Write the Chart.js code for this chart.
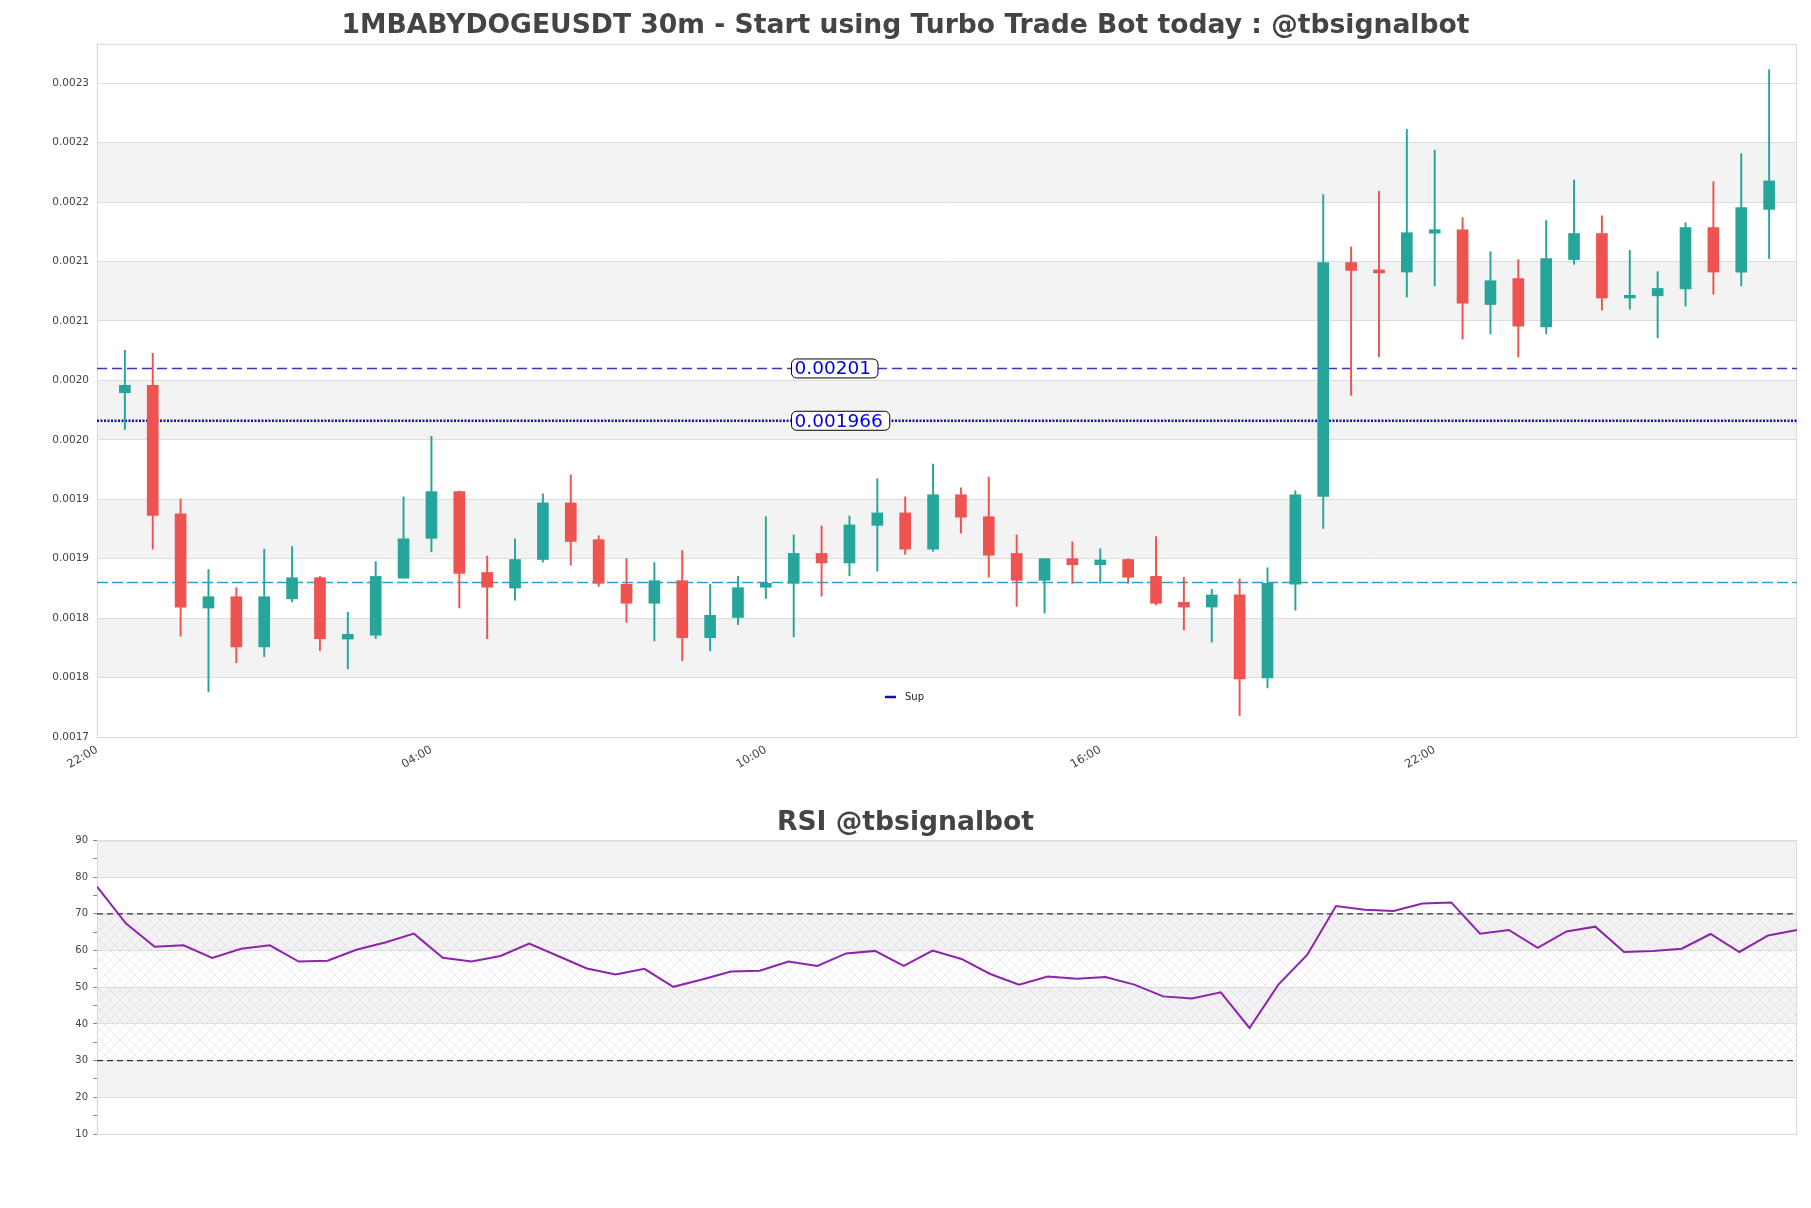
<!DOCTYPE html>
<html>
<head>
<meta charset="utf-8">
<title>1MBABYDOGEUSDT 30m</title>
<script src="https://cdn.jsdelivr.net/npm/chart.js@4.4.1/dist/chart.umd.min.js"></script>
<style>
  html, body { margin: 0; padding: 0; background: #fff; }
  #wrap { position: relative; width: 1811px; height: 1208px; }
  #priceChart { position: absolute; left: 0; top: 0; }
  #rsiChart { position: absolute; left: 0; top: 790px; }
</style>
</head>
<body>
<div id="wrap">
  <canvas id="priceChart" width="1811" height="790"></canvas>
  <canvas id="rsiChart" width="1811" height="418"></canvas>
</div>
<script>
// Candles, 30m each, first one at 22:30
const opens = [
    0.0019896, 0.0019958, 0.0018878, 0.0018085, 0.0018180, 0.0017758, 0.0018162, 0.0018340, 0.0017824, 0.0017856,
    0.0018336, 0.0018671, 0.0019064, 0.0018384, 0.0018253, 0.0018493, 0.0018969, 0.0018660, 0.0018285, 0.0018125,
    0.0018315, 0.0017835, 0.0018005, 0.0018260, 0.0018293, 0.0018544, 0.0018464, 0.0018780, 0.0018885, 0.0018580,
    0.0019038, 0.0018853, 0.0018544, 0.0018318, 0.0018500, 0.0018449, 0.0018493, 0.0018351, 0.0018133, 0.0018093,
    0.0018195, 0.0017496, 0.0018285, 0.0019024, 0.0020991, 0.0020929, 0.0020911, 0.0021238, 0.0021267, 0.0020638,
    0.0020856, 0.0020449, 0.0021016, 0.0021235, 0.0020693, 0.0020711, 0.0020769, 0.0021285, 0.0020911, 0.0021438
];
const highs = [
    0.0020253, 0.0020227, 0.0019002, 0.0018409, 0.0018256, 0.0018580, 0.0018602, 0.0018351, 0.0018049, 0.0018475,
    0.0019020, 0.0019529, 0.0019070, 0.0018522, 0.0018667, 0.0019045, 0.0019205, 0.0018693, 0.0018500, 0.0018467,
    0.0018569, 0.0018285, 0.0018351, 0.0018853, 0.0018700, 0.0018776, 0.0018860, 0.0019173, 0.0019020, 0.0019296,
    0.0019096, 0.0019187, 0.0018700, 0.0018500, 0.0018642, 0.0018584, 0.0018500, 0.0018685, 0.0018344, 0.0018242,
    0.0018329, 0.0018424, 0.0019071, 0.0021562, 0.0021122, 0.0021591, 0.0022111, 0.0021936, 0.0021369, 0.0021082,
    0.0021016, 0.0021344, 0.0021685, 0.0021384, 0.0021093, 0.0020915, 0.0021325, 0.0021671, 0.0021907, 0.0022613
];
const lows = [
    0.0019587, 0.0018580, 0.0017849, 0.0017380, 0.0017624, 0.0017675, 0.0018136, 0.0017725, 0.0017573, 0.0017827,
    0.0018336, 0.0018558, 0.0018085, 0.0017827, 0.0018151, 0.0018471, 0.0018445, 0.0018267, 0.0017965, 0.0017809,
    0.0017642, 0.0017725, 0.0017944, 0.0018165, 0.0017842, 0.0018184, 0.0018355, 0.0018395, 0.0018536, 0.0018562,
    0.0018715, 0.0018344, 0.0018100, 0.0018042, 0.0018293, 0.0018293, 0.0018293, 0.0018111, 0.0017900, 0.0017798,
    0.0017180, 0.0017413, 0.0018067, 0.0018755, 0.0019875, 0.0020198, 0.0020700, 0.0020795, 0.0020347, 0.0020391,
    0.0020198, 0.0020391, 0.0020976, 0.0020591, 0.0020598, 0.0020358, 0.0020624, 0.0020725, 0.0020795, 0.0021024
];
const closes = [
    0.0019958, 0.0018864, 0.0018093, 0.0018180, 0.0017758, 0.0018180, 0.0018340, 0.0017827, 0.0017864, 0.0018351,
    0.0018667, 0.0019064, 0.0018376, 0.0018260, 0.0018493, 0.0018969, 0.0018645, 0.0018293, 0.0018125, 0.0018315,
    0.0017835, 0.0018024, 0.0018256, 0.0018293, 0.0018544, 0.0018464, 0.0018784, 0.0018885, 0.0018580, 0.0019038,
    0.0018849, 0.0018529, 0.0018318, 0.0018500, 0.0018449, 0.0018489, 0.0018344, 0.0018125, 0.0018093, 0.0018195,
    0.0017489, 0.0018293, 0.0019038, 0.0020991, 0.0020925, 0.0020904, 0.0021242, 0.0021267, 0.0020649, 0.0020838,
    0.0020456, 0.0021024, 0.0021235, 0.0020693, 0.0020715, 0.0020773, 0.0021285, 0.0020911, 0.0021453, 0.0021678
];
const rsiValues = [
    77.4, 67.4, 61.0, 61.4, 58.0, 60.5, 61.4, 57.0, 57.2, 60.2,
    62.2, 64.6, 58.0, 57.0, 58.5, 61.9, 58.5, 55.1, 53.5, 55.0,
    50.1, 52.1, 54.3, 54.5, 57.0, 55.8, 59.2, 59.9, 55.8, 60.0,
    57.7, 53.6, 50.7, 52.9, 52.3, 52.8, 50.7, 47.5, 46.9, 48.6,
    38.9, 50.7, 58.8, 72.1, 71.1, 70.8, 72.8, 73.1, 64.6, 65.6,
    60.7, 65.2, 66.5, 59.6, 59.9, 60.5, 64.5, 59.6, 64.1, 65.6
];

// Axis ticks
const xTickPos = [-1, 11, 23, 35, 47];
const xTickLabels = ['22:00', '04:00', '10:00', '16:00', '22:00'];
const yTickValues = [0.0017, 0.00175, 0.0018, 0.00185, 0.0019, 0.00195, 0.002, 0.00205, 0.0021, 0.00215, 0.0022, 0.00225];
const yTickLabels = ['0.0017', '0.0018', '0.0018', '0.0019', '0.0019', '0.0020', '0.0020', '0.0021', '0.0021', '0.0022', '0.0022', '0.0023'];
const rsiTicks = [10, 15, 20, 25, 30, 35, 40, 45, 50, 55, 60, 65, 70, 75, 80, 85, 90];

// Levels
const resistance = 0.00201;
const support = 0.001966;
const lowerLevel = 0.00183;
const levelTexts = ['0.00201', '0.001966'];
const rsiLevels = [70, 30];

const mainTitle = '1MBABYDOGEUSDT 30m - Start using Turbo Trade Bot today : @tbsignalbot';
const rsiTitle = 'RSI @tbsignalbot';

const UP = '#26a69a';
const DOWN = '#ef5350';

Chart.defaults.font.family = '"DejaVu Sans", sans-serif';
Chart.defaults.animation = false;

const candleColors = opens.map((o, i) => closes[i] >= o ? UP : DOWN);
const idx = opens.map((o, i) => i);

const hline = (value, color, dash, width, from, to) => ({
    type: 'line',
    data: [{ x: from, y: value }, { x: to, y: value }],
    borderColor: color,
    borderDash: dash,
    borderWidth: width,
    pointRadius: 0,
    order: 3
});

// Price panel: bands, frame, level labels and legend
const priceDecor = {
    id: 'priceDecor',
    beforeDraw(chart) {
        const { ctx, chartArea: a, scales: { y } } = chart;
        ctx.save();
        ctx.fillStyle = '#f3f3f3';
        for (let k = 1; k < yTickValues.length - 1; k += 2) {
            const top = y.getPixelForValue(yTickValues[k + 1]);
            const bot = y.getPixelForValue(yTickValues[k]);
            ctx.fillRect(a.left, top, a.width, bot - top);
        }
        ctx.restore();
    },
    beforeDatasetsDraw(chart) {
        const { ctx, chartArea: a } = chart;
        ctx.save();
        ctx.strokeStyle = '#d9d9d9';
        ctx.lineWidth = 1;
        ctx.strokeRect(a.left + 0.5, a.top + 0.5, a.width - 1, a.height);
        ctx.restore();
    },
    afterDatasetsDraw(chart) {
        const { ctx, chartArea: a, scales: { x, y } } = chart;
        ctx.save();
        ctx.font = '18.5px "DejaVu Sans"';
        ctx.textBaseline = 'middle';
        [resistance, support].forEach((v, i) => {
            const py = y.getPixelForValue(v);
            const px = x.getPixelForValue(23.92);
            const tw = ctx.measureText(levelTexts[i]).width;
            ctx.beginPath();
            ctx.roundRect(px, py - 9.5, tw + 10, 19, 5);
            ctx.fillStyle = '#ffffff';
            ctx.fill();
            ctx.strokeStyle = '#000000';
            ctx.lineWidth = 1;
            ctx.stroke();
            ctx.fillStyle = '#0000e6';
            ctx.fillText(levelTexts[i], px + 3, py + 1);
        });

        // legend
        const lx = a.left + a.width * 0.4635;
        const ly = a.bottom - 40;
        ctx.strokeStyle = '#1010b0';
        ctx.lineWidth = 2.5;
        ctx.beginPath();
        ctx.moveTo(lx, ly);
        ctx.lineTo(lx + 11, ly);
        ctx.stroke();
        ctx.font = '10px "DejaVu Sans"';
        ctx.fillStyle = '#222';
        ctx.fillText('Sup', lx + 20, ly);
        ctx.restore();
    }
};

new Chart(document.getElementById('priceChart'), {
    type: 'bar',
    data: {
        datasets: [
            {
                label: 'wick',
                data: idx.map(i => ({ x: i, y: [lows[i], highs[i]] })),
                backgroundColor: candleColors,
                barThickness: 1.3,
                maxBarThickness: 1.3,
                grouped: false,
                borderWidth: 0,
                order: 1
            },
            {
                label: 'body',
                data: idx.map(i => ({ x: i, y: [opens[i], closes[i]] })),
                backgroundColor: candleColors,
                barThickness: 11,
                maxBarThickness: 11,
                minBarLength: 2,
                grouped: false,
                borderWidth: 0,
                order: 0
            },
            hline(resistance, '#4433bb', [10, 5], 1.5, -1, 60),
            hline(support, '#1010b0', [2, 1.5], 2.5, -1, 60),
            hline(lowerLevel, '#2a9fd6', [11, 4], 1.5, -1, 60)
        ]
    },
    options: {
        responsive: false,
        layout: { padding: { left: 14, right: 14, top: 0, bottom: 0 } },
        plugins: {
            title: {
                display: true,
                text: mainTitle,
                color: '#444444',
                font: { size: 26.6, weight: 'bold' },
                padding: { top: 10, bottom: 2 }
            },
            legend: { display: false },
            tooltip: { enabled: false }
        },
        scales: {
            x: {
                type: 'linear',
                min: -1,
                max: 60,
                offset: false,
                afterBuildTicks: s => { s.ticks = xTickPos.map(v => ({ value: v })); },
                afterFit: s => { s.height = 53; },
                ticks: {
                    autoSkip: false,
                    minRotation: 30,
                    maxRotation: 30,
                    padding: -2,
                    color: '#444',
                    font: { size: 11.5 },
                    callback: (v, i) => xTickLabels[i]
                },
                grid: { display: false, offset: false },
                border: { color: '#d9d9d9' }
            },
            y: {
                type: 'linear',
                min: 0.0017,
                max: 0.002283,
                beginAtZero: false,
                afterBuildTicks: s => { s.ticks = yTickValues.map(v => ({ value: v })); },
                afterFit: s => { s.width = 83; },
                ticks: {
                    padding: 8,
                    color: '#444',
                    font: { size: 10.5 },
                    callback: (v, i) => yTickLabels[i]
                },
                grid: { color: '#dddddd', drawTicks: false },
                border: { color: '#d9d9d9' }
            }
        }
    },
    plugins: [priceDecor]
});

// RSI panel: bands, hatch between 30 and 70, frame
const rsiDecor = {
    id: 'rsiDecor',
    beforeDraw(chart) {
        const { ctx, chartArea: a, scales: { y } } = chart;
        ctx.save();
        ctx.fillStyle = '#f3f3f3';
        [[80, 90], [60, 70], [40, 50], [20, 30]].forEach(([lo, hi]) => {
            const top = y.getPixelForValue(hi);
            const bot = y.getPixelForValue(lo);
            ctx.fillRect(a.left, top, a.width, bot - top);
        });
        const tile = document.createElement('canvas');
        tile.width = 10;
        tile.height = 10;
        const g = tile.getContext('2d');
        g.strokeStyle = 'rgba(190,165,205,0.4)';
        g.lineWidth = 0.6;
        g.beginPath();
        g.moveTo(0, 0); g.lineTo(10, 10);
        g.moveTo(10, 0); g.lineTo(0, 10);
        g.stroke();
        const top = y.getPixelForValue(rsiLevels[0]);
        const bot = y.getPixelForValue(rsiLevels[1]);
        ctx.fillStyle = ctx.createPattern(tile, 'repeat');
        ctx.fillRect(a.left, top, a.width, bot - top);
        ctx.restore();
    },
    beforeDatasetsDraw(chart) {
        const { ctx, chartArea: a } = chart;
        ctx.save();
        ctx.strokeStyle = '#d9d9d9';
        ctx.lineWidth = 1;
        ctx.strokeRect(a.left + 0.5, a.top + 0.5, a.width - 1, a.height);
        ctx.restore();
    }
};

new Chart(document.getElementById('rsiChart'), {
    type: 'line',
    data: {
        datasets: [
            {
                label: 'RSI',
                data: rsiValues.map((v, i) => ({ x: i, y: v })),
                borderColor: '#8e24aa',
                borderWidth: 2,
                pointRadius: 0,
                tension: 0,
                order: 0
            },
            ...rsiLevels.map(v => ({
                data: [{ x: 0, y: v }, { x: rsiValues.length - 1, y: v }],
                borderColor: '#333333',
                borderDash: [6, 4],
                borderWidth: 1.2,
                pointRadius: 0,
                order: 1
            }))
        ]
    },
    options: {
        responsive: false,
        layout: { padding: { left: 14, right: 14, top: 0, bottom: 0 } },
        plugins: {
            title: {
                display: true,
                text: rsiTitle,
                color: '#444444',
                font: { size: 26.6, weight: 'bold' },
                padding: { top: 17, bottom: 1.5 }
            },
            legend: { display: false },
            tooltip: { enabled: false }
        },
        scales: {
            x: {
                type: 'linear',
                min: 0,
                max: rsiValues.length - 1,
                afterFit: s => { s.height = 74; },
                ticks: { display: false },
                grid: { display: false },
                border: { color: '#d9d9d9' }
            },
            y: {
                type: 'linear',
                min: 10,
                max: 90,
                afterBuildTicks: s => { s.ticks = rsiTicks.map(v => ({ value: v })); },
                afterFit: s => { s.width = 83; },
                ticks: {
                    padding: 5,
                    color: '#444',
                    font: { size: 10 },
                    callback: v => (v % 10 === 0 ? String(v) : '')
                },
                grid: {
                    color: c => (c.tick && c.tick.value % 10 === 0 ? '#dddddd' : 'rgba(0,0,0,0)'),
                    tickColor: '#888',
                    tickLength: 4
                },
                border: { color: '#d9d9d9' }
            }
        }
    },
    plugins: [rsiDecor]
});
</script>
</body>
</html>
